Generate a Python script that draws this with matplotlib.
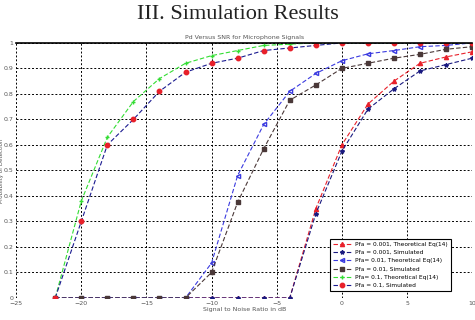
import numpy as np
import matplotlib
matplotlib.use("Agg")
import matplotlib.pyplot as plt

# SNR grid (dB) and detection probabilities
snr = [-22, -20, -18, -16, -14, -12, -10, -8, -6, -4, -2, 0, 2, 4, 6, 8, 10]

pd_0001_theory = [0, 0, 0, 0, 0, 0, 0, 0, 0, 0, 0.35, 0.60, 0.76, 0.85, 0.92, 0.945, 0.965]
pd_0001_sim = [0, 0, 0, 0, 0, 0, 0, 0, 0, 0, 0.33, 0.575, 0.74, 0.82, 0.89, 0.915, 0.94]
pd_001_theory = [0, 0, 0, 0, 0, 0, 0.137, 0.48, 0.68, 0.81, 0.88, 0.93, 0.957, 0.97, 0.985, 0.99, 1.0]
pd_001_sim = [0, 0, 0, 0, 0, 0, 0.10, 0.375, 0.585, 0.775, 0.835, 0.90, 0.92, 0.94, 0.955, 0.975, 0.985]
pd_01_theory = [0, 0.38, 0.63, 0.77, 0.86, 0.92, 0.95, 0.97, 0.99, 0.995, 1, 1, 1, 1, 1, 1, 1]
pd_01_sim = [0, 0.30, 0.60, 0.70, 0.81, 0.885, 0.92, 0.94, 0.97, 0.98, 0.99, 1, 1, 1, 1, 1, 1]

labels = [
    "Pfa = 0.001, Theoretical Eq(14)",
    "Pfa = 0.001, Simulated",
    "Pfa= 0.01, Theoretical Eq(14)",
    "Pfa = 0.01, Simulated",
    "Pfa= 0.1, Theoretical Eq(14)",
    "Pfa = 0.1, Simulated",
]

fig = plt.figure(figsize=(4.75, 3.2), dpi=100)
fig.text(0.5, 0.955, "III. Simulation Results", ha="center", va="center",
         fontsize=16, family="Liberation Serif", color="#222222")

ax = fig.add_axes([0.034, 0.069, 0.96, 0.797])

dash = (0, (4, 2))
ax.plot(snr, pd_0001_theory, color="#e8202a", ls=dash, lw=0.8, marker="^", ms=3, label=labels[0])
ax.plot(snr, pd_0001_sim, color="#1a1a80", ls=dash, lw=0.8, marker="*", ms=3, label=labels[1])
ax.plot(snr, pd_001_theory, color="#3a3ae0", ls=dash, lw=0.8, marker="<", ms=3,
        mfc="none", label=labels[2])
ax.plot(snr, pd_001_sim, color="#4a3838", ls=dash, lw=0.8, marker="s", ms=3.5, label=labels[3])
ax.plot(snr, pd_01_theory, color="#33dd33", ls=dash, lw=0.8, marker="+", ms=3.5, label=labels[4])
ax.plot(snr, pd_01_sim, color="#1a1a90", ls=dash, lw=0.8, marker="o", ms=3.2,
        mfc="#e8202a", mec="#e8202a", label=labels[5])

ax.set_xlim(-25, 10)
ax.set_ylim(0, 1)
ax.set_xticks(np.arange(-25, 11, 5))
ax.set_yticks(np.arange(0, 1.01, 0.1))
ax.set_yticklabels(["0", "0.1", "0.2", "0.3", "0.4", "0.5", "0.6", "0.7", "0.8", "0.9", "1"])
ax.tick_params(labelsize=4.5, length=0, pad=2, colors="#555555")
ax.grid(True, color="black", ls=(0, (2, 2)), lw=0.7)

for side in ["left", "bottom", "right"]:
    ax.spines[side].set_visible(False)
ax.spines["top"].set_linewidth(1.2)

ax.set_title("Pd Versus SNR for Microphone Signals", fontsize=4.5, color="#555555", pad=3)
ax.set_xlabel("Signal to Noise Ratio in dB", fontsize=4.5, color="#555555", labelpad=1)
ax.set_ylabel("Probability of Detection", fontsize=4, color="#555555")
ax.yaxis.set_label_coords(-0.026, 0.5)

leg = ax.legend(loc="lower right", bbox_to_anchor=(0.96, 0.015), fontsize=4.2,
                frameon=True, fancybox=False, edgecolor="black", framealpha=1,
                handlelength=3, borderpad=0.5, labelspacing=0.55)
leg.get_frame().set_linewidth(0.8)

fig.savefig("out.png", dpi=100)
